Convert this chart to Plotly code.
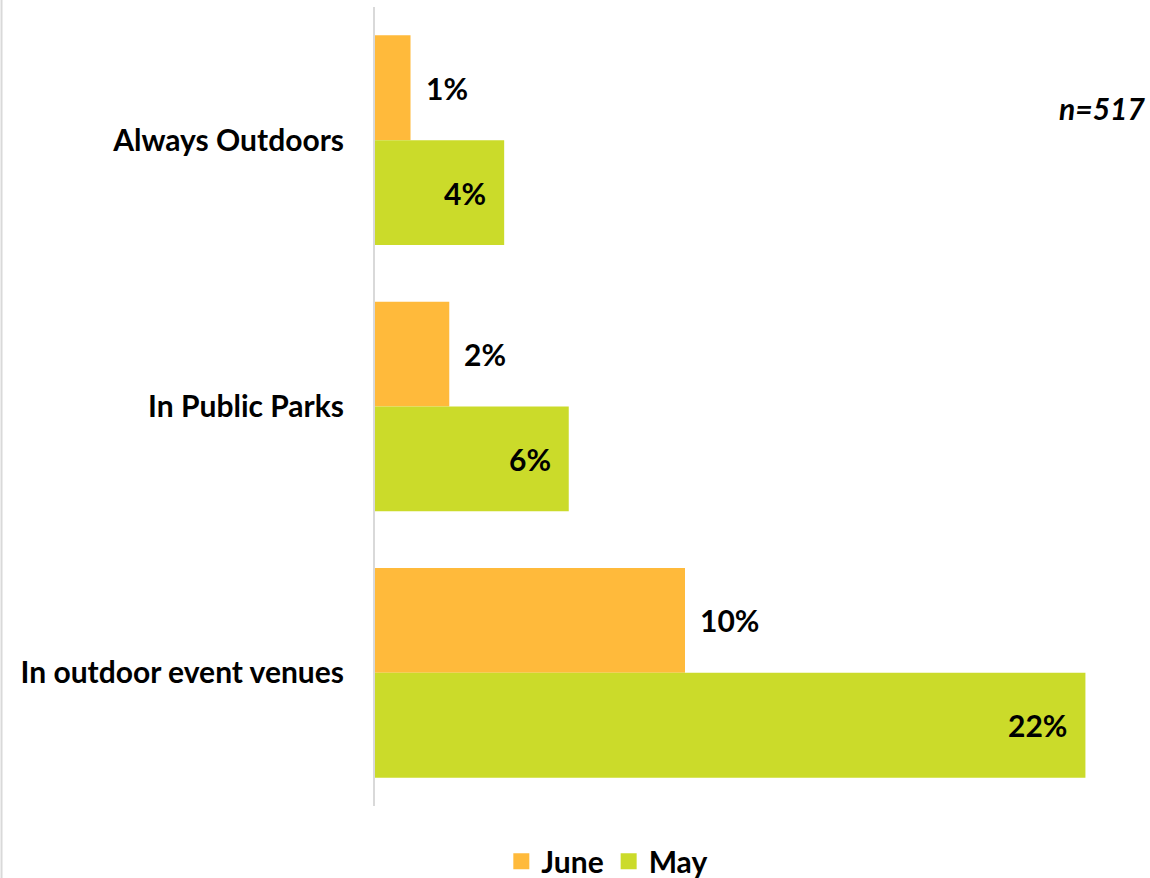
import plotly.graph_objects as go

categories = ["Always Outdoors", "In Public Parks", "In outdoor event venues"]
june = [1.1, 2.3, 9.6]
may = [4.0, 6.0, 22.0]
series_names = ["June", "May"]
colors = ["#FFBA3B", "#CBDB2A"]
n_label = "n=517"

FONT = "Lato"
FS = 30
bargap = 0.213
w = (1 - bargap) / 2

fig = go.Figure()
for name, vals, col in zip(series_names, [june, may], colors):
    fig.add_trace(go.Bar(
        y=categories, x=vals, name=name, orientation="h", showlegend=False,
        marker=dict(color=col, line=dict(width=0)),
    ))
# legend entries with larger square swatches
for name, col in zip(series_names, colors):
    fig.add_trace(go.Scatter(
        x=[None], y=[None], mode="markers", name=f"<b>{name}</b>",
        marker=dict(symbol="square", size=18, color=col),
    ))

annotations = []
for i, v in enumerate(june):
    annotations.append(dict(x=v, y=i - w / 2, xref="x", yref="y", text=f"<b>{v:.0f}%</b>",
                            showarrow=False, xanchor="left", xshift=13,
                            font=dict(family=FONT, size=FS, color="black")))
for i, v in enumerate(may):
    annotations.append(dict(x=v, y=i + w / 2, xref="x", yref="y", text=f"<b>{v:.0f}%</b>",
                            showarrow=False, xanchor="right", xshift=-16,
                            font=dict(family=FONT, size=FS, color="black")))
annotations.append(dict(x=1, y=0.873, xref="paper", yref="paper", text=f"<b><i>{n_label}</i></b>",
                        showarrow=False, xanchor="right", yanchor="middle", xshift=-3,
                        font=dict(family=FONT, size=FS, color="black")))

fig.update_layout(
    width=1150, height=878,
    margin=dict(l=375, r=0, t=7, b=72, autoexpand=False),
    paper_bgcolor="white", plot_bgcolor="white",
    barmode="group", bargap=bargap, bargroupgap=0,
    font=dict(family=FONT, size=FS, color="black"),
    showlegend=True,
    legend=dict(orientation="h", x=0.163, xanchor="left", y=-0.069, yanchor="middle",
                font=dict(family=FONT, size=FS, color="black"), traceorder="normal",
                itemsizing="trace", tracegroupgap=0),
    annotations=annotations,
    shapes=[dict(type="line", xref="paper", yref="paper", x0=-0.4819, x1=-0.4819, y0=-0.1, y1=1.01,
                 line=dict(color="#D9D9D9", width=2))],
)
fig.update_xaxes(range=[0, 24], showticklabels=False, showgrid=False, zeroline=False,
                 showline=False)
fig.update_yaxes(autorange="reversed", showgrid=False, zeroline=False, showline=True,
                 linecolor="#D9D9D9", linewidth=2, ticks="", ticklabelstandoff=23,
                 tickfont=dict(family=FONT, size=FS, color="black"),
                 tickvals=categories, ticktext=[f"<b>{c}</b>" for c in categories])

fig.write_html("out.html")
